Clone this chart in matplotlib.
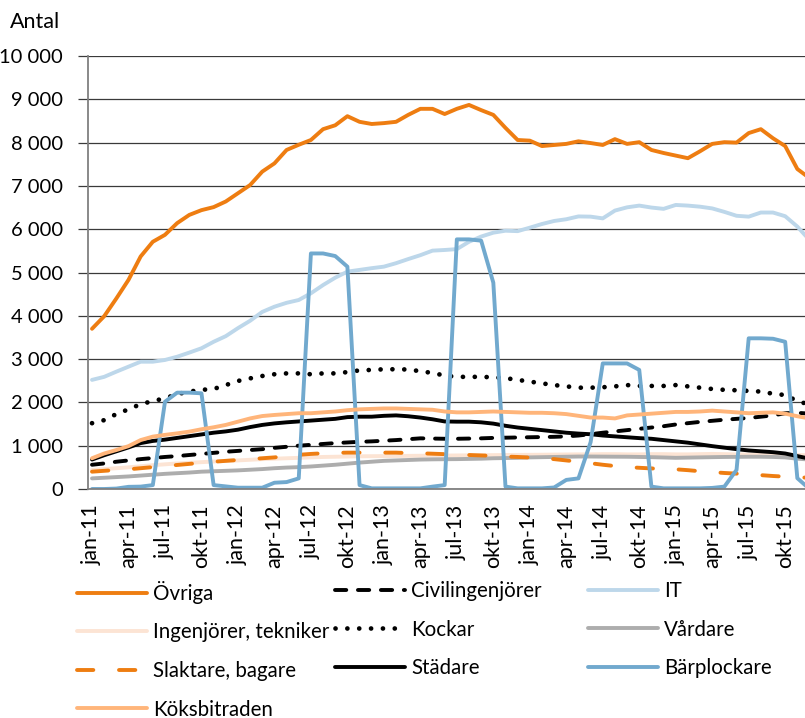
"""Antal per yrkesgrupp, månadsvis jan-11 till dec-15."""
import matplotlib
matplotlib.use("Agg")
import matplotlib.pyplot as plt
from matplotlib.ticker import FuncFormatter
import numpy as np

plt.rcParams["font.family"] = ["Lato", "DejaVu Sans"]

# 60 månader, jan-11 .. dec-15
months = ["jan", "feb", "mar", "apr", "maj", "jun", "jul", "aug", "sep", "okt", "nov", "dec"]
periods = [f"{m}-{y}" for y in range(11, 16) for m in months]

ovriga = [3700, 3990, 4400, 4830, 5370, 5710, 5870, 6140, 6330, 6440, 6510, 6640,
          6830, 7020, 7330, 7520, 7830, 7950, 8060, 8310, 8400, 8610, 8480, 8430,
          8450, 8480, 8640, 8780, 8780, 8660, 8780, 8870, 8750, 8640, 8340, 8060,
          8045, 7920, 7945, 7970, 8030, 7990, 7945, 8080, 7970, 8010, 7830, 7760,
          7700, 7640, 7800, 7970, 8010, 8000, 8220, 8310, 8100, 7920, 7390, 7180]
civilingenjorer = [560, 590, 630, 660, 690, 715, 740, 760, 785, 810, 835, 860,
                   880, 900, 920, 950, 975, 1000, 1020, 1040, 1060, 1075, 1090, 1100,
                   1115, 1130, 1150, 1170, 1165, 1160, 1160, 1165, 1170, 1180, 1185, 1190,
                   1195, 1200, 1205, 1215, 1235, 1265, 1300, 1330, 1360, 1390, 1420, 1450,
                   1490, 1520, 1550, 1575, 1600, 1620, 1640, 1670, 1700, 1750, 1760, 1740]
it = [2520, 2590, 2710, 2825, 2940, 2940, 2980, 3055, 3150, 3250, 3400, 3530,
      3715, 3885, 4090, 4210, 4300, 4365, 4520, 4710, 4880, 5020, 5060, 5100,
      5135, 5215, 5310, 5400, 5505, 5520, 5540, 5710, 5830, 5920, 5965, 5955,
      6035, 6120, 6190, 6230, 6295, 6290, 6250, 6430, 6505, 6545, 6500, 6470,
      6560, 6545, 6520, 6480, 6400, 6310, 6290, 6385, 6385, 6300, 6060, 5750]
ingenjorer = [440, 460, 480, 500, 525, 550, 570, 590, 605, 620, 635, 650,
              660, 675, 690, 700, 710, 720, 730, 740, 745, 750, 755, 758,
              760, 762, 765, 768, 770, 772, 775, 778, 780, 782, 785, 788,
              790, 792, 795, 798, 800, 800, 805, 805, 800, 800, 805, 805,
              800, 800, 805, 810, 805, 800, 795, 795, 790, 795, 785, 780]
kockar = [1520, 1590, 1730, 1840, 1960, 2030, 2095, 2190, 2250, 2290, 2310, 2400,
          2495, 2555, 2610, 2650, 2670, 2670, 2650, 2670, 2670, 2700, 2740, 2750,
          2765, 2765, 2760, 2720, 2680, 2620, 2590, 2590, 2590, 2580, 2560, 2520,
          2480, 2440, 2400, 2370, 2340, 2340, 2350, 2370, 2400, 2380, 2380, 2380,
          2400, 2370, 2340, 2310, 2290, 2280, 2265, 2250, 2200, 2170, 2030, 1950]
vardare = [245, 260, 275, 290, 310, 330, 350, 365, 380, 400, 410, 420,
           430, 445, 460, 480, 495, 505, 520, 540, 560, 585, 610, 630,
           650, 660, 670, 680, 685, 688, 690, 695, 700, 710, 715, 720,
           730, 735, 740, 745, 750, 750, 748, 746, 745, 740, 735, 728,
           720, 725, 730, 735, 740, 742, 745, 745, 740, 730, 700, 680]
slaktare = [400, 420, 440, 455, 480, 505, 530, 555, 580, 605, 630, 650,
            670, 690, 710, 730, 760, 790, 810, 825, 835, 840, 840, 840,
            840, 840, 830, 825, 815, 805, 795, 785, 775, 765, 750, 740,
            725, 710, 690, 660, 630, 595, 560, 530, 505, 490, 475, 465,
            455, 435, 410, 390, 370, 355, 340, 320, 300, 285, 270, 260]
stadare = [680, 780, 870, 960, 1060, 1110, 1140, 1180, 1220, 1260, 1300, 1330,
           1370, 1430, 1480, 1515, 1540, 1560, 1580, 1600, 1620, 1660, 1670, 1670,
           1690, 1700, 1680, 1650, 1610, 1560, 1555, 1555, 1540, 1510, 1460, 1420,
           1390, 1360, 1330, 1300, 1280, 1265, 1235, 1215, 1195, 1175, 1160, 1130,
           1100, 1070, 1030, 990, 955, 920, 890, 870, 850, 820, 760, 700]
barplockare = [0, 0, 10, 50, 55, 90, 2015, 2225, 2225, 2210, 90, 60,
               30, 30, 30, 145, 160, 245, 5440, 5440, 5380, 5135, 90, 15,
               15, 15, 15, 15, 55, 90, 5765, 5765, 5735, 4765, 55, 15,
               15, 15, 35, 210, 245, 1080, 2900, 2900, 2900, 2750, 55, 15,
               15, 15, 15, 25, 55, 440, 3480, 3480, 3470, 3400, 250, 0]
koksbitraden = [710, 820, 900, 990, 1130, 1210, 1250, 1285, 1325, 1380, 1425, 1480,
                1555, 1630, 1685, 1710, 1730, 1750, 1750, 1770, 1790, 1820, 1840, 1850,
                1860, 1860, 1850, 1840, 1830, 1790, 1770, 1770, 1780, 1790, 1780, 1770,
                1760, 1760, 1750, 1730, 1690, 1650, 1650, 1630, 1700, 1720, 1740, 1760,
                1780, 1780, 1790, 1810, 1790, 1770, 1750, 1760, 1770, 1740, 1680, 1630]

ORANGE = "#EE7D11"
LW = 2.8
FS = 14.8

x = np.arange(len(periods))
fig = plt.figure(figsize=(8.05, 7.18), dpi=100)
ax = fig.add_axes([88 / 805, 229 / 718, 1 - 88 / 805, 433 / 718])

series = [
    ("Övriga", ovriga, dict(color=ORANGE)),
    ("Civilingenjörer", civilingenjorer, dict(color="black", dashes=(2.9, 3.0))),
    ("IT", it, dict(color="#BDD7EA")),
    ("Ingenjörer, tekniker", ingenjorer, dict(color="#FCE4D4")),
    ("Kockar", kockar, dict(color="black", dashes=(0.01, 2.5), lw=3.4)),
    ("Vårdare", vardare, dict(color="#ADADAD")),
    ("Slaktare, bagare", slaktare, dict(color=ORANGE, dashes=(4.2, 6.6))),
    ("Städare", stadare, dict(color="black")),
    ("Bärplockare", barplockare, dict(color="#71A9CE")),
    ("Köksbitraden", koksbitraden, dict(color="#FFB57A")),
]
handles = {}
for name, vals, kw in series:
    kw = dict(kw)
    lw = kw.pop("lw", LW)
    ln, = ax.plot(x, vals, lw=lw, label=name, solid_capstyle="round",
                  dash_capstyle="round", solid_joinstyle="round", **kw)
    handles[name] = ln

ax.set_xlim(-0.33, 58.63)
ax.set_ylim(0, 10000)
ax.set_yticks(range(0, 10001, 1000))
ax.yaxis.set_major_formatter(FuncFormatter(lambda v, p: f"{int(v):,}".replace(",", " ")))
ax.set_xticks(x[::3])
ax.set_xticklabels(periods[::3], rotation=90, fontsize=15.5)
ax.tick_params(axis="x", length=0, pad=11)
ax.tick_params(axis="y", labelsize=14.5, length=7, width=0.9, color="#3a3a3a", pad=11)
ax.yaxis.grid(True, color="#3a3a3a", lw=0.9)
ax.set_axisbelow(True)
ax.spines[["top", "right"]].set_visible(False)
ax.spines["left"].set_color("#808080")
ax.spines["left"].set_linewidth(1.3)
ax.spines["bottom"].set_color("#808080")
ax.spines["bottom"].set_linewidth(1.3)

fig.text(10 / 805, 1 - 22 / 718, "Antal", fontsize=15.5, va="center", ha="left")

# legend: three columns placed by hand
cols = [
    (77, ["Övriga", "Ingenjörer, tekniker", "Slaktare, bagare", "Köksbitraden"]),
    (335, ["Civilingenjörer", "Kockar", "Städare"]),
    (588, ["IT", "Vårdare", "Bärplockare"]),
]
for xpx, names in cols:
    fig.legend([handles[n] for n in names], names, loc="upper left",
               bbox_to_anchor=(xpx / 805, 1 - 581 / 718), frameon=False,
               fontsize=FS, borderpad=0, borderaxespad=0, handlelength=3.4,
               handletextpad=0.3, labelspacing=0.9)

fig.savefig("out.png", dpi=100)
